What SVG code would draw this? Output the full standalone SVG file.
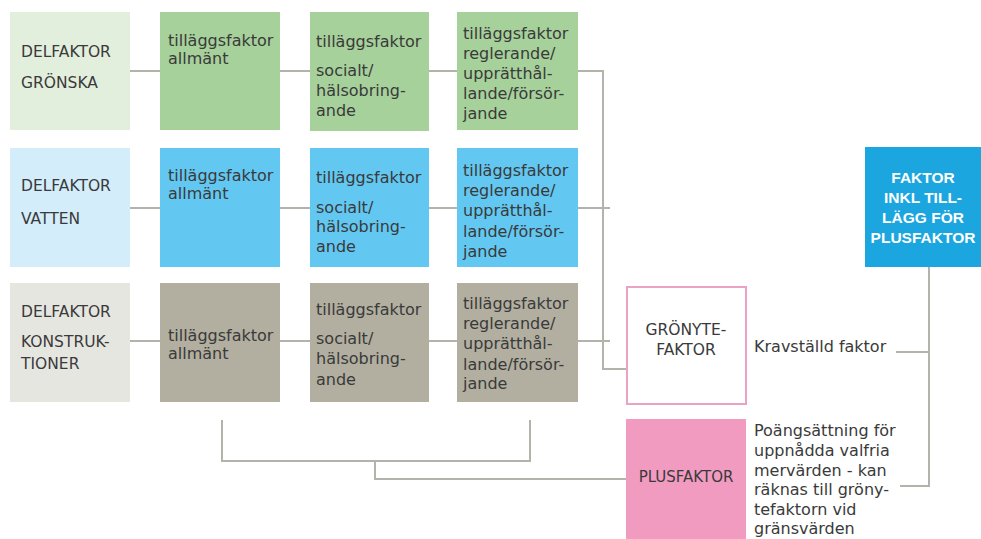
<svg xmlns="http://www.w3.org/2000/svg" width="981" height="539" viewBox="0 0 981 539">
<style>
text{font-family:"DejaVu Sans","Liberation Sans",sans-serif;font-size:16px;fill:#3a3a3a}
.cap{font-size:15.5px}
.w{fill:#ffffff;font-family:"Liberation Sans",Arial,sans-serif;font-weight:bold;font-size:15.5px}
.c{text-anchor:middle}
.ln{fill:none;stroke:#b3b3ab;stroke-width:2}
.g1{fill:#e3efdd}.g2{fill:#a6d19b}
.b1{fill:#d4edfb}.b2{fill:#62c8f2}
.s1{fill:#e6e6e1}.s2{fill:#b2afa0}
</style>
<rect width="981" height="539" fill="#ffffff"/>
<g id="connectors">
<path class="ln" d="M130 71H160M280 71H310M429 71H457M578 71H603V369H626"/>
<path class="ln" d="M130 208H160M280 208H310M429 208H457M578 208H610"/>
<path class="ln" d="M130 341H160M280 341H310M429 341H457M578 341H610"/>
<path class="ln" d="M222 420V461H530V420M375 461V479H626"/>
<path class="ln" d="M929 267V486H900M896 352H929"/>
</g>
<g id="delfaktor-gronska"><rect class="g1" x="10" y="12" width="120" height="118"/><text class="cap" x="21" y="57">DELFAKTOR</text><text class="cap" x="21" y="88">GRÖNSKA</text></g>
<g id="gronska-allmant"><rect class="g2" x="160" y="12" width="120" height="118"/><text x="168" y="46">tilläggsfaktor</text><text x="168" y="64">allmänt</text></g>
<g id="gronska-socialt"><rect class="g2" x="310" y="12" width="119" height="119"/><text x="316" y="47">tilläggsfaktor</text><text x="316" y="76">socialt/</text><text x="316" y="96">hälsobring-</text><text x="316" y="116">ande</text></g>
<g id="gronska-reglerande"><rect class="g2" x="457" y="12" width="121" height="118"/><text x="463" y="39">tilläggsfaktor</text><text x="463" y="59">reglerande/</text><text x="463" y="79">upprätthål-</text><text x="463" y="99">lande/försör-</text><text x="463" y="119">jande</text></g>

<g id="delfaktor-vatten"><rect class="b1" x="10" y="148" width="120" height="119"/><text class="cap" x="21" y="191">DELFAKTOR</text><text class="cap" x="21" y="224">VATTEN</text></g>
<g id="vatten-allmant"><rect class="b2" x="160" y="148" width="120" height="119"/><text x="168" y="181">tilläggsfaktor</text><text x="168" y="199">allmänt</text></g>
<g id="vatten-socialt"><rect class="b2" x="310" y="148" width="119" height="119"/><text x="316" y="183">tilläggsfaktor</text><text x="316" y="213">socialt/</text><text x="316" y="232">hälsobring-</text><text x="316" y="252">ande</text></g>
<g id="vatten-reglerande"><rect class="b2" x="457" y="148" width="121" height="119"/><text x="463" y="176">tilläggsfaktor</text><text x="463" y="196">reglerande/</text><text x="463" y="216">upprätthål-</text><text x="463" y="237">lande/försör-</text><text x="463" y="257">jande</text></g>

<g id="delfaktor-konstruktioner"><rect class="s1" x="10" y="283" width="120" height="119"/><text class="cap" x="21" y="317">DELFAKTOR</text><text class="cap" x="21" y="347">KONSTRUK-</text><text class="cap" x="21" y="369">TIONER</text></g>
<g id="konstruktioner-allmant"><rect class="s2" x="160" y="283" width="120" height="119"/><text x="168" y="341">tilläggsfaktor</text><text x="168" y="359">allmänt</text></g>
<g id="konstruktioner-socialt"><rect class="s2" x="310" y="283" width="119" height="119"/><text x="316" y="315">tilläggsfaktor</text><text x="316" y="344">socialt/</text><text x="316" y="364">hälsobring-</text><text x="316" y="385">ande</text></g>
<g id="konstruktioner-reglerande"><rect class="s2" x="457" y="283" width="121" height="119"/><text x="463" y="309">tilläggsfaktor</text><text x="463" y="329">reglerande/</text><text x="463" y="349">upprätthål-</text><text x="463" y="370">lande/försör-</text><text x="463" y="389">jande</text></g>

<g id="gronytefaktor"><rect x="627" y="287" width="119" height="117" fill="#ffffff" stroke="#eaa3c4" stroke-width="2"/><text class="cap c" x="686" y="335">GRÖNYTE-</text><text class="cap c" x="686" y="355">FAKTOR</text></g>
<g id="kravstalld"><text x="754" y="352">Kravställd faktor</text></g>
<g id="plusfaktor"><rect x="626" y="419" width="120" height="125" fill="#f29bc1"/><text class="c" x="686" y="482" style="font-size:15px">PLUSFAKTOR</text></g>
<g id="poangsattning"><text x="754" y="436">Poängsättning för</text><text x="754" y="456">uppnådda valfria</text><text x="754" y="475.5">mervärden - kan</text><text x="754" y="495">räknas till gröny-</text><text x="754" y="514.5">tefaktorn vid</text><text x="754" y="534">gränsvärden</text></g>
<g id="faktor-inkl"><rect x="865" y="147" width="116" height="120" fill="#1ca6e0"/><text class="w c" x="923" y="183">FAKTOR</text><text class="w c" x="923" y="203">INKL TILL-</text><text class="w c" x="923" y="223">LÄGG FÖR</text><text class="w c" x="923" y="243">PLUSFAKTOR</text></g>
</svg>
